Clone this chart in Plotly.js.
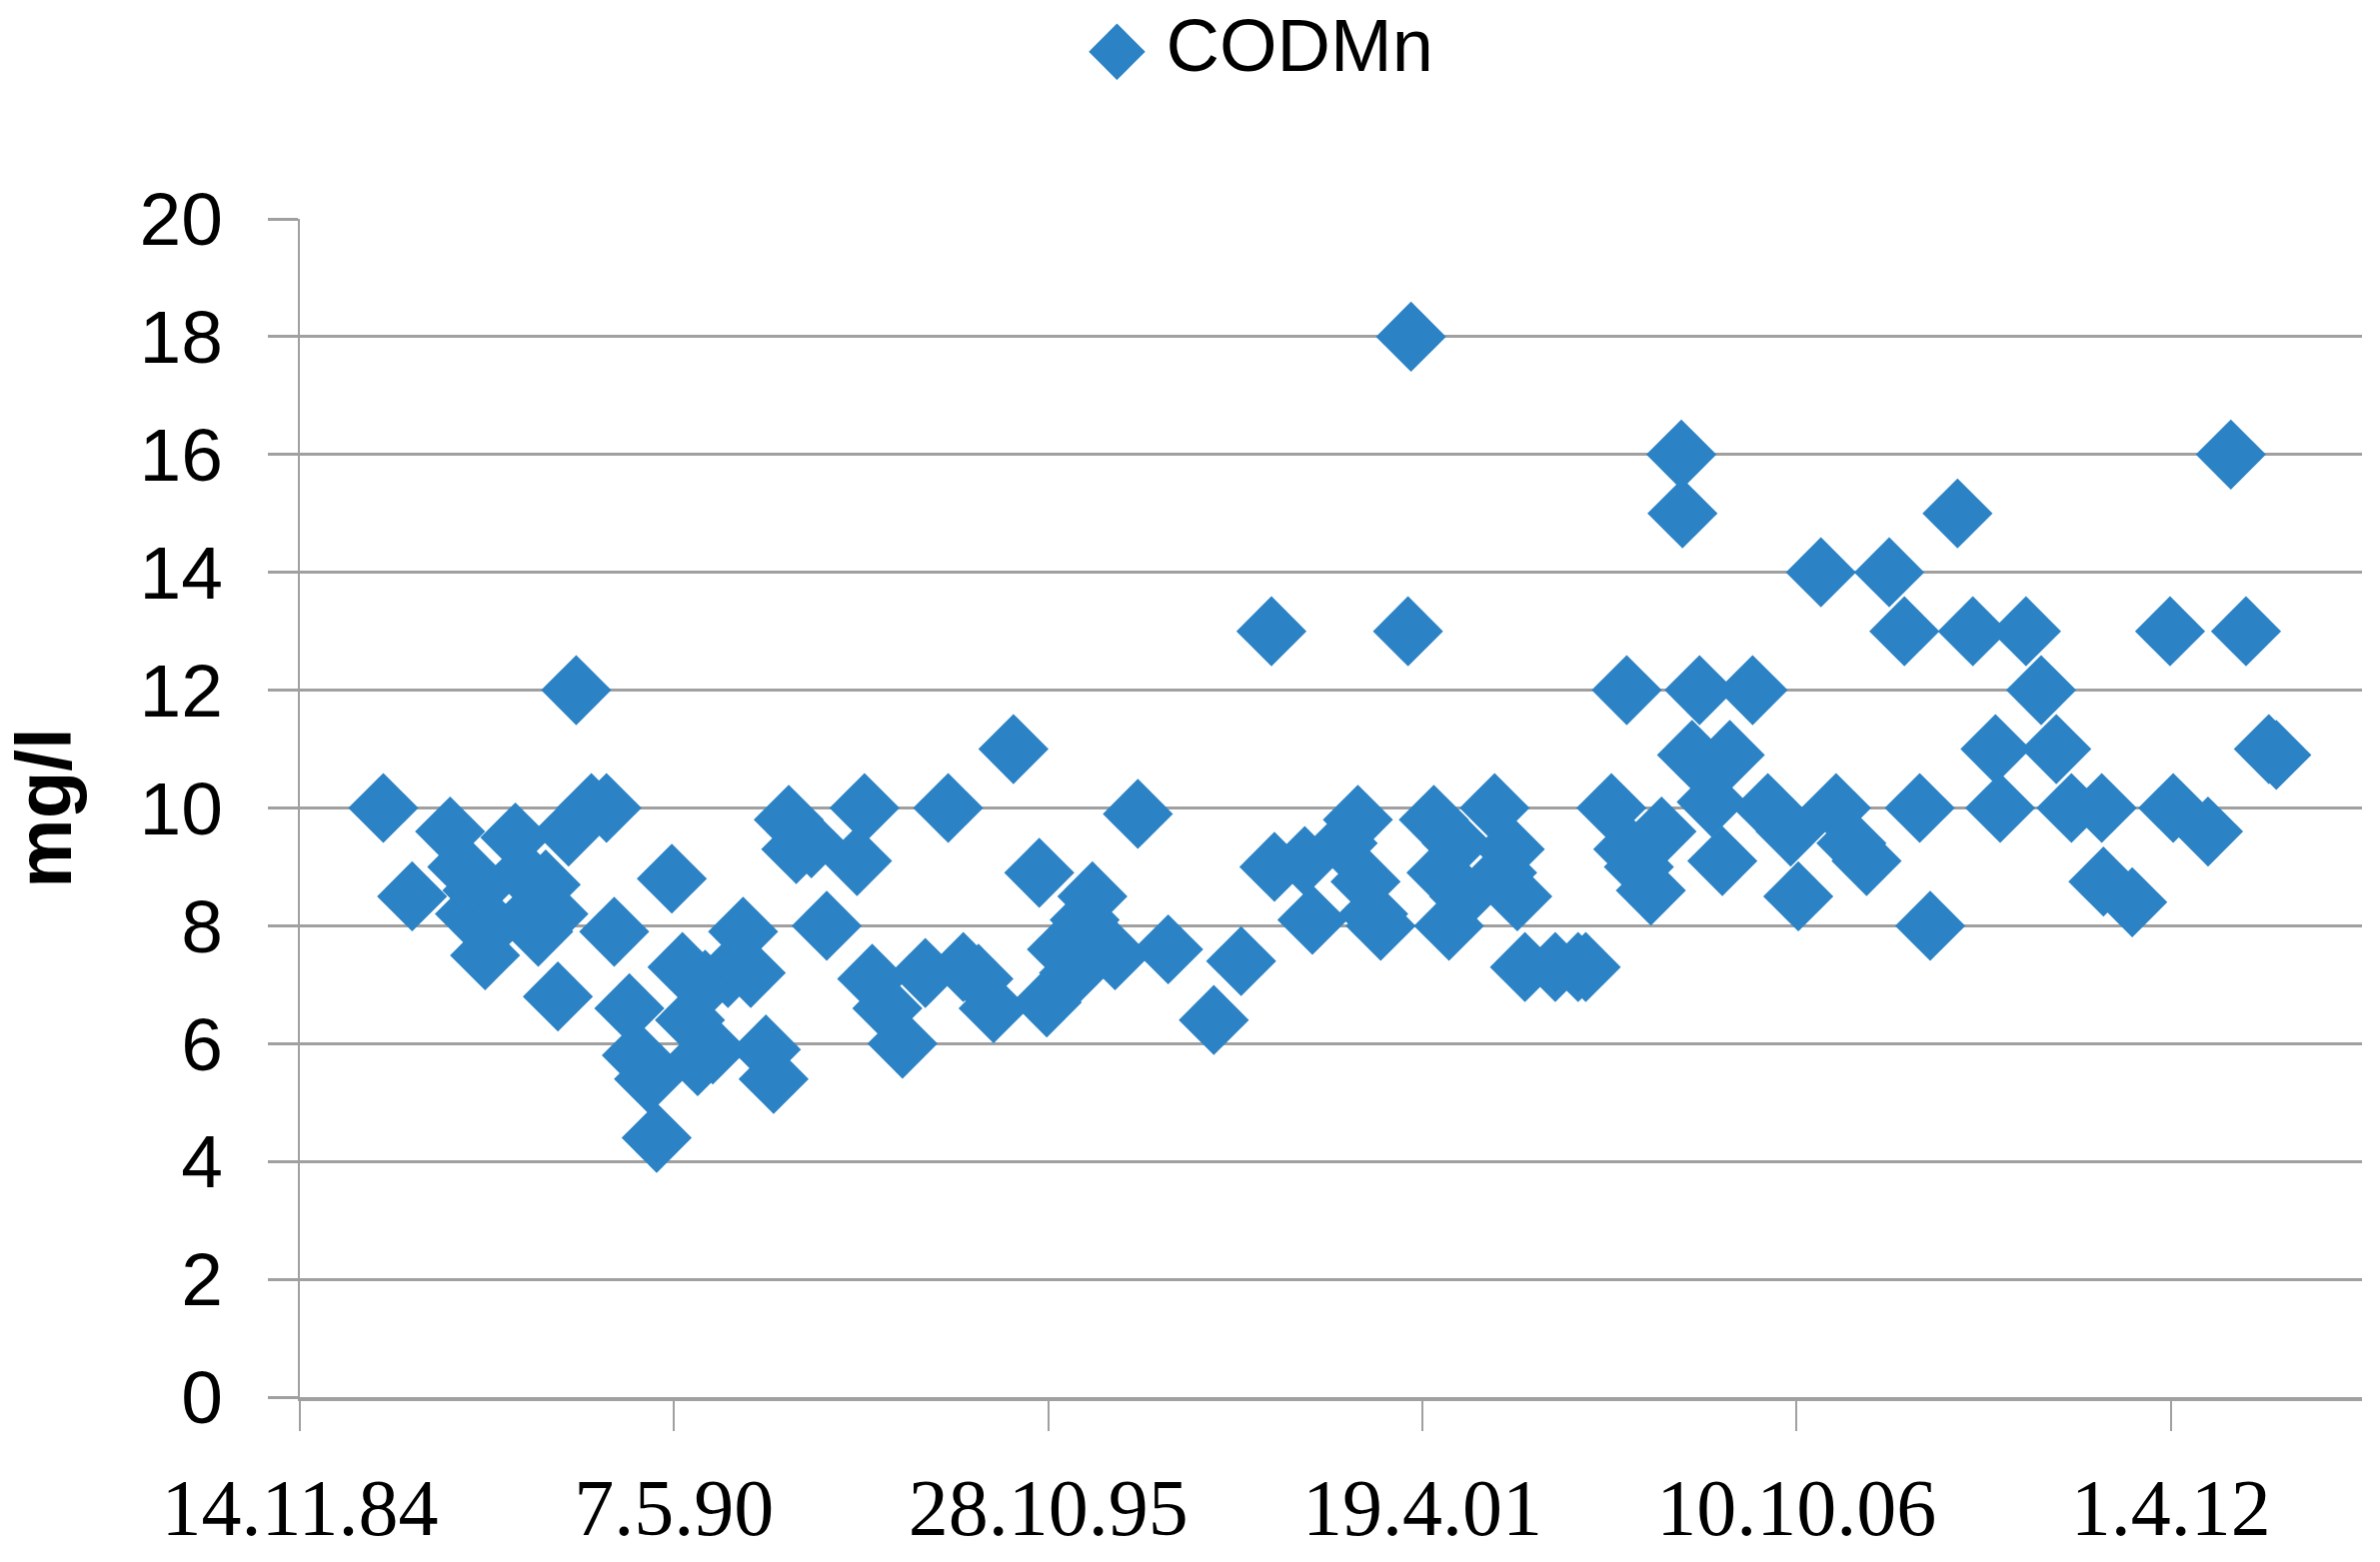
<!DOCTYPE html>
<html>
<head>
<meta charset="utf-8">
<script src="https://cdn.plot.ly/plotly-3.0.1.min.js"></script>
<style>html,body{margin:0;padding:0;background:#fff;}#chart{width:2381px;height:1563px;}</style>
</head>
<body>
<div id="chart"></div>
<script>
// Sampling dates as Excel day serials, converted to dates below
const sampleDaySerial = [
  31446, 31600, 31803, 31868, 31909, 31949, 31990, 32030, 32152, 32193,
  32233, 32274, 32314, 32355, 32379, 32436, 32477, 32558, 32639, 32680,
  32761, 32801, 32866, 32907, 32988, 33045, 33085, 33126, 33166, 33207,
  33288, 33369, 33410, 33491, 33532, 33613, 33653, 33734, 33816, 33978,
  34018, 34059, 34140, 34221, 34343, 34465, 34546, 34627, 34708, 34814,
  34952, 34992, 35073, 35138, 35195, 35236, 35276, 35357, 35479, 35641,
  35885, 36031, 36193, 36209, 36371, 36412, 36574, 36655, 36696, 36737,
  36777, 36923, 36939, 37061, 37102, 37142, 37183, 37223, 37386, 37426,
  37467, 37507, 37548, 37710, 37832, 37873, 38010, 38092, 38100, 38157,
  38221, 38278, 38384, 38390, 38441, 38481, 38546, 38603, 38643, 38765,
  38846, 38968, 39009, 39130, 39211, 39293, 39374, 39495, 39576, 39658,
  39714, 39860, 39942, 40063, 40088, 40226, 40307, 40388, 40469, 40631,
  40640, 40794, 40996, 41013, 41199, 41321, 41402, 41524, 41564
];
// CODMn concentration, mg/l
const codMn = [
  10.0, 8.5, 9.6, 9.0, 8.2, 8.6, 7.5, 8.0, 9.5, 8.9,
  8.2, 7.9, 8.7, 8.2, 6.8, 9.6, 12.0, 10.0, 10.0, 7.9,
  6.6, 5.8, 5.4, 4.4, 8.8, 7.3, 6.4, 5.7, 7.0, 5.9,
  7.2, 7.9, 7.2, 5.9, 5.4, 9.8, 9.3, 9.4, 8.0, 9.1,
  10.0, 7.1, 6.6, 6.0, 7.2, 10.0, 7.3, 7.1, 6.6, 11.0,
  8.9, 6.7, 7.6, 7.2, 8.1, 8.5, 7.7, 7.5, 9.9, 7.6,
  6.4, 7.4, 13.0, 9.0, 9.1, 8.1, 9.4, 9.8, 8.75, 8.2,
  8.0, 13.0, 18.0, 9.8, 8.9, 8.0, 9.4, 8.5, 10.0, 8.9,
  9.3, 8.5, 7.3, 7.3, 7.3, 7.3, 10.0, 12.0, 9.3, 9.0,
  8.6, 9.6, 16.0, 15.0, 10.9, 12.0, 10.1, 9.1, 10.9, 12.0,
  10.0, 9.6, 8.5, 14.0, 10.0, 9.4, 9.1, 14.0, 13.0, 10.0,
  8.0, 15.0, 13.0, 11.0, 10.0, 13.0, 12.0, 11.0, 10.0, 10.0,
  8.75, 8.4, 13.0, 10.0, 9.6, 16.0, 13.0, 11.0, 10.9
];
// Axis ticks (Excel day serials) and their labels
const tickSerials = [31000, 33000, 35000, 37000, 39000, 41000];
const tickLabels = ['14.11.84', '7.5.90', '28.10.95', '19.4.01', '10.10.06', '1.4.12'];
const axisEndSerials = [31000, 42022];
const seriesName = 'CODMn';

function serialToDate(s) {
  return new Date((s - 25569) * 86400000).toISOString().slice(0, 10);
}

const blue = '#2B83C6';
const grid = '#A0A0A0';

const trace = {
  type: 'scatter',
  mode: 'markers',
  name: seriesName,
  x: sampleDaySerial.map(serialToDate),
  y: codMn,
  marker: { symbol: 'diamond', size: 54, color: blue, line: { width: 0 } },
  cliponaxis: false,
  showlegend: false
};

const layout = {
  width: 2381,
  height: 1563,
  margin: { l: 300, r: 18, t: 219, b: 165 },
  paper_bgcolor: '#ffffff',
  plot_bgcolor: '#ffffff',
  showlegend: false,
  xaxis: {
    type: 'date',
    range: axisEndSerials.map(serialToDate),
    tickmode: 'array',
    tickvals: tickSerials.map(serialToDate),
    ticktext: tickLabels,
    ticks: 'outside',
    ticklen: 30,
    tickwidth: 2,
    tickcolor: grid,
    ticklabelstandoff: 8,
    showgrid: false,
    showline: true,
    linecolor: grid,
    linewidth: 4,
    zeroline: false,
    tickfont: { family: 'Liberation Serif', size: 80, color: '#000' }
  },
  yaxis: {
    range: [0, 20],
    tickmode: 'linear',
    tick0: 0,
    dtick: 2,
    ticks: 'outside',
    ticklen: 30,
    tickwidth: 3,
    tickcolor: grid,
    ticklabelstandoff: 30,
    showgrid: true,
    gridcolor: grid,
    gridwidth: 3,
    showline: true,
    linecolor: grid,
    linewidth: 2,
    zeroline: false,
    tickfont: { family: 'Liberation Sans', size: 75, color: '#000' },
    title: {
      text: '<b>mg/l</b>',
      font: { family: 'Liberation Sans', size: 78, color: '#000' },
      standoff: 48
    }
  },
  annotations: [{
    xref: 'paper', yref: 'paper',
    x: 0.466, y: 1.147,
    xanchor: 'center', yanchor: 'middle',
    showarrow: false,
    text: '<span style="color:' + blue + '">◆</span> ' + seriesName,
    font: { family: 'Liberation Sans', size: 74, color: '#000' }
  }]
};

Plotly.newPlot('chart', [trace], layout, { staticPlot: true, displayModeBar: false });
</script>
</body>
</html>
